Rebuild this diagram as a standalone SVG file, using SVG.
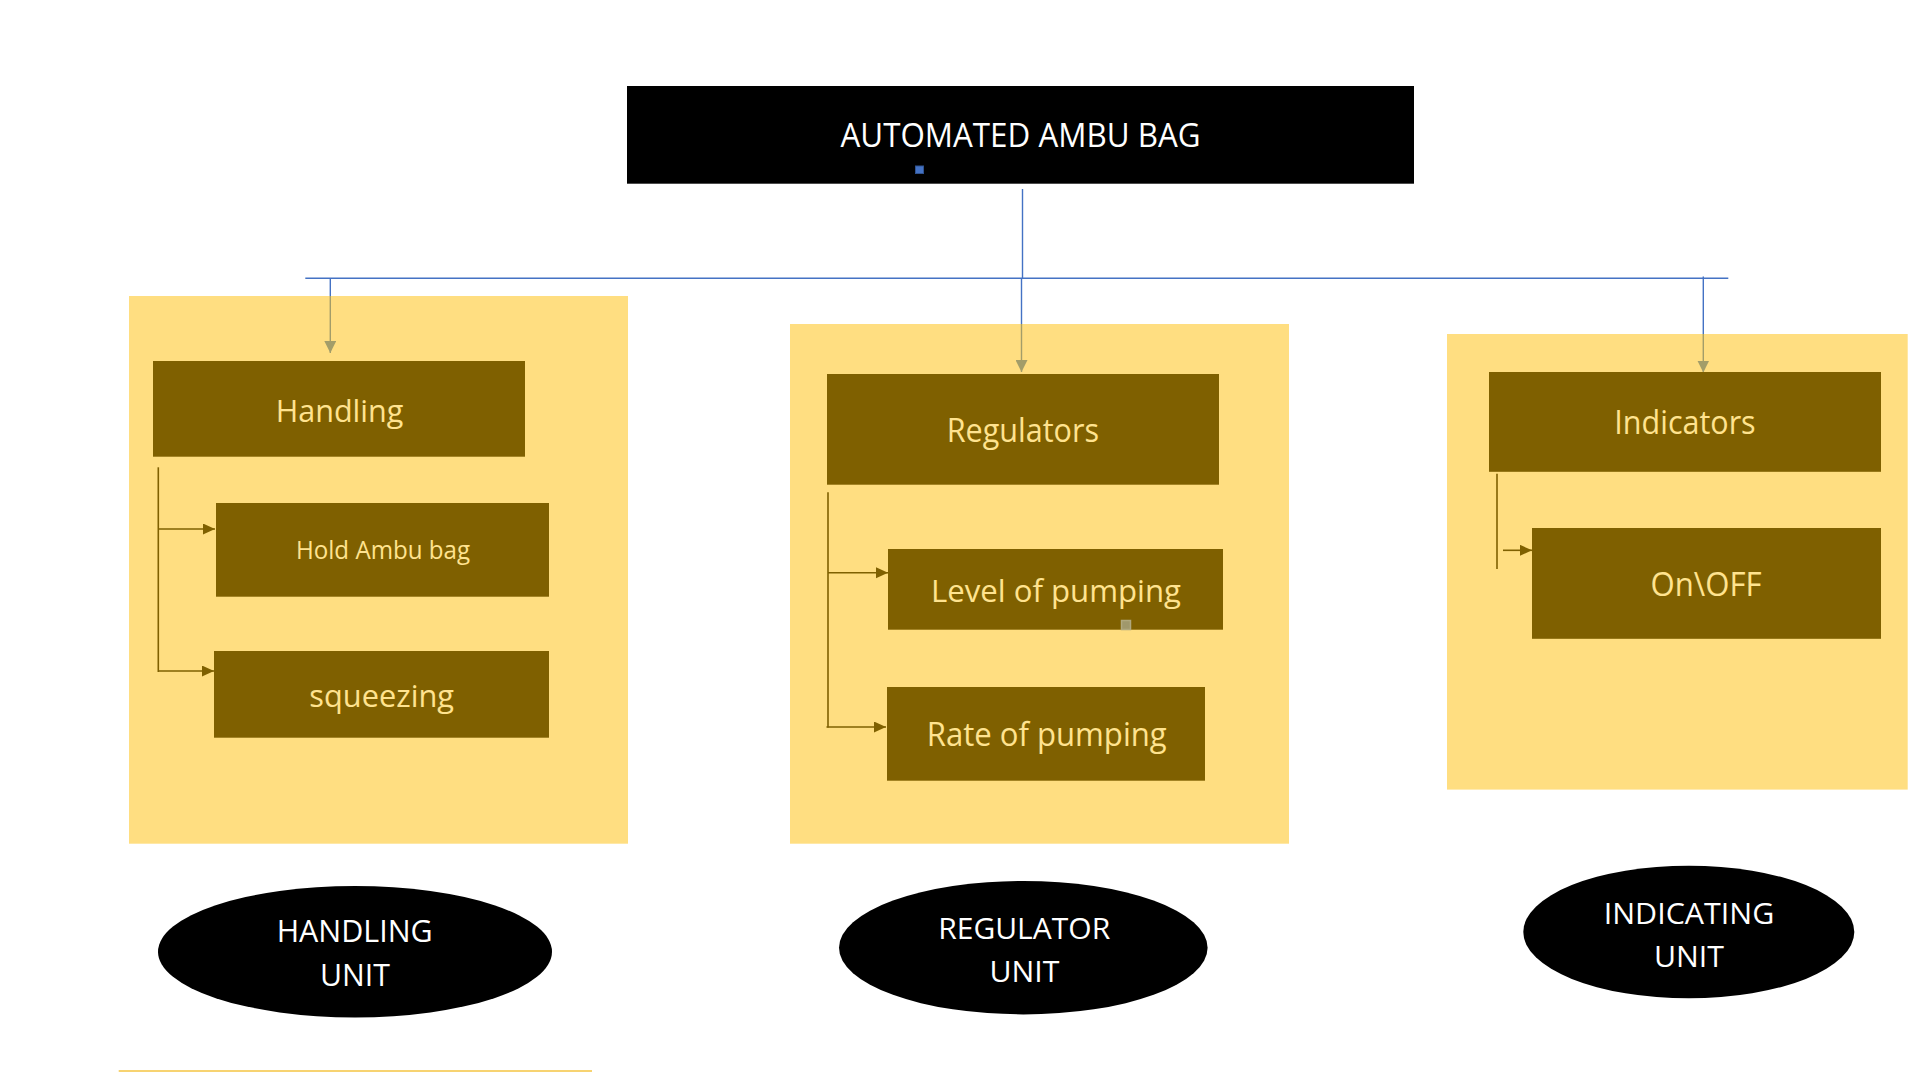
<svg xmlns="http://www.w3.org/2000/svg" width="1920" height="1080" viewBox="0 0 1920 1080">
  <style>
    .panel { fill: #FFDE81; }
    .box { fill: #7F6000; }
    .boxtext { fill: #FFE38F; font-family: "Open Sans", "Noto Sans", "Liberation Sans", sans-serif; text-anchor: middle; }
    .wtext { fill: #FFFFFF; font-family: "Open Sans", "Noto Sans", "Liberation Sans", sans-serif; text-anchor: middle; }
    .blue { stroke: #4472C4; stroke-width: 1.4; fill: none; }
    .olive { stroke: #A39D69; stroke-width: 1.4; fill: none; }
    .brown { stroke: #7F6000; stroke-width: 1.6; fill: none; }
  </style>
  <defs>
    <marker id="olivehead" markerUnits="userSpaceOnUse" markerWidth="12" markerHeight="12" refX="12" refY="6" orient="auto">
      <path d="M0,0 L12,6 L0,12 z" fill="#A39D69"/>
    </marker>
    <marker id="brownhead" markerUnits="userSpaceOnUse" markerWidth="12" markerHeight="12" refX="12" refY="5.5" orient="auto">
      <path d="M0,0 L12,5.5 L0,11 z" fill="#7F6000"/>
    </marker>
  </defs>
  <rect width="1920" height="1080" fill="#FFFFFF"/>

  <!-- unit panels -->
  <g id="panel-handling"><rect class="panel" x="129" y="296" width="499" height="547.7"/></g>
  <g id="panel-regulator"><rect class="panel" x="790" y="324" width="499" height="519.7"/></g>
  <g id="panel-indicating"><rect class="panel" x="1447" y="334" width="460.7" height="455.6"/></g>

  <!-- connectors -->
  <g id="connectors">
    <line class="blue" x1="1022.5" y1="189" x2="1022.5" y2="278.3"/>
    <line class="blue" x1="305.3" y1="278.3" x2="1728.3" y2="278.3"/>
    <line class="blue" x1="330.3" y1="278.3" x2="330.3" y2="296"/>
    <line class="olive" x1="330.3" y1="296" x2="330.3" y2="353" marker-end="url(#olivehead)"/>
    <line class="blue" x1="1021.5" y1="278.3" x2="1021.5" y2="324"/>
    <line class="olive" x1="1021.5" y1="324" x2="1021.5" y2="372" marker-end="url(#olivehead)"/>
    <line class="blue" x1="1703.3" y1="276.5" x2="1703.3" y2="334"/>
    <line class="olive" x1="1703.3" y1="334" x2="1703.3" y2="372.5" marker-end="url(#olivehead)"/>

    <line class="brown" x1="158.3" y1="467.3" x2="158.3" y2="672"/>
    <line class="brown" x1="158.3" y1="529" x2="215" y2="529" marker-end="url(#brownhead)"/>
    <line class="brown" x1="158.3" y1="671" x2="214" y2="671" marker-end="url(#brownhead)"/>

    <line class="brown" x1="828" y1="492.3" x2="828" y2="727.5"/>
    <line class="brown" x1="828" y1="572.7" x2="888" y2="572.7" marker-end="url(#brownhead)"/>
    <line class="brown" x1="826.5" y1="727" x2="886" y2="727" marker-end="url(#brownhead)"/>

    <line class="brown" x1="1497" y1="473.8" x2="1497" y2="569"/>
    <line class="brown" x1="1503" y1="550.3" x2="1532" y2="550.3" marker-end="url(#brownhead)"/>
  </g>

  <!-- title -->
  <g id="node-title">
    <rect x="627" y="86" width="787" height="97.7" fill="#000000"/>
    <text class="wtext" x="1020.5" y="146.7" font-size="32.6" textLength="360" lengthAdjust="spacingAndGlyphs">AUTOMATED AMBU BAG</text>
    <rect x="915.5" y="166" width="8" height="7.5" fill="#4472C4" stroke="#2F528F" stroke-width="1"/>
  </g>

  <g id="node-handling">
    <rect class="box" x="153" y="361" width="372" height="95.7"/>
    <text class="boxtext" x="339.5" y="421.7" font-size="31.8" textLength="127.7" lengthAdjust="spacingAndGlyphs">Handling</text>
  </g>
  <g id="node-hold">
    <rect class="box" x="216" y="503" width="333" height="93.7"/>
    <text class="boxtext" x="383" y="559.3" font-size="26" textLength="174" lengthAdjust="spacingAndGlyphs">Hold Ambu bag</text>
  </g>
  <g id="node-squeezing">
    <rect class="box" x="214" y="651" width="335" height="86.7"/>
    <text class="boxtext" x="381.7" y="706.7" font-size="31.8" textLength="144.7" lengthAdjust="spacingAndGlyphs">squeezing</text>
  </g>

  <g id="node-regulators">
    <rect class="box" x="827" y="374" width="392" height="110.7"/>
    <text class="boxtext" x="1022.8" y="442.3" font-size="32.6" textLength="152.3" lengthAdjust="spacingAndGlyphs">Regulators</text>
  </g>
  <g id="node-level">
    <rect class="box" x="888" y="549" width="335" height="80.7"/>
    <text class="boxtext" x="1056" y="601.7" font-size="31.8" textLength="250" lengthAdjust="spacingAndGlyphs">Level of pumping</text>
    <rect x="1121.5" y="620.5" width="9" height="9" fill="#A0986C" stroke="#B0A87E" stroke-width="1.5"/>
  </g>
  <g id="node-rate">
    <rect class="box" x="887" y="687" width="318" height="93.7"/>
    <text class="boxtext" x="1046.7" y="745.7" font-size="32.6" textLength="240" lengthAdjust="spacingAndGlyphs">Rate of pumping</text>
  </g>

  <g id="node-indicators">
    <rect class="box" x="1489" y="372" width="392" height="99.8"/>
    <text class="boxtext" x="1685" y="434" font-size="32.6" textLength="141.3" lengthAdjust="spacingAndGlyphs">Indicators</text>
  </g>
  <g id="node-onoff">
    <rect class="box" x="1532" y="528" width="349" height="110.8"/>
    <text class="boxtext" x="1706" y="595.7" font-size="33" textLength="111" lengthAdjust="spacingAndGlyphs">On\OFF</text>
  </g>

  <g id="node-handling-unit">
    <ellipse cx="355" cy="951.7" rx="197" ry="65.7" fill="#000000"/>
    <text class="wtext" x="354.7" y="942.3" font-size="30.4" textLength="156" lengthAdjust="spacingAndGlyphs">HANDLING</text>
    <text class="wtext" x="355" y="985.7" font-size="30.4" textLength="70" lengthAdjust="spacingAndGlyphs">UNIT</text>
  </g>
  <g id="node-regulator-unit">
    <ellipse cx="1023.3" cy="947.7" rx="184.3" ry="66.7" fill="#000000"/>
    <text class="wtext" x="1024.2" y="939.3" font-size="30" textLength="172" lengthAdjust="spacingAndGlyphs">REGULATOR</text>
    <text class="wtext" x="1024.5" y="981.7" font-size="30" textLength="70" lengthAdjust="spacingAndGlyphs">UNIT</text>
  </g>
  <g id="node-indicating-unit">
    <ellipse cx="1688.8" cy="932" rx="165.5" ry="66.3" fill="#000000"/>
    <text class="wtext" x="1689" y="924" font-size="29.6" textLength="170.5" lengthAdjust="spacingAndGlyphs">INDICATING</text>
    <text class="wtext" x="1689" y="966.7" font-size="29.6" textLength="70" lengthAdjust="spacingAndGlyphs">UNIT</text>
  </g>

  <line x1="118.7" y1="1071" x2="592" y2="1071" stroke="#F4C542" stroke-width="1.5"/>
</svg>
